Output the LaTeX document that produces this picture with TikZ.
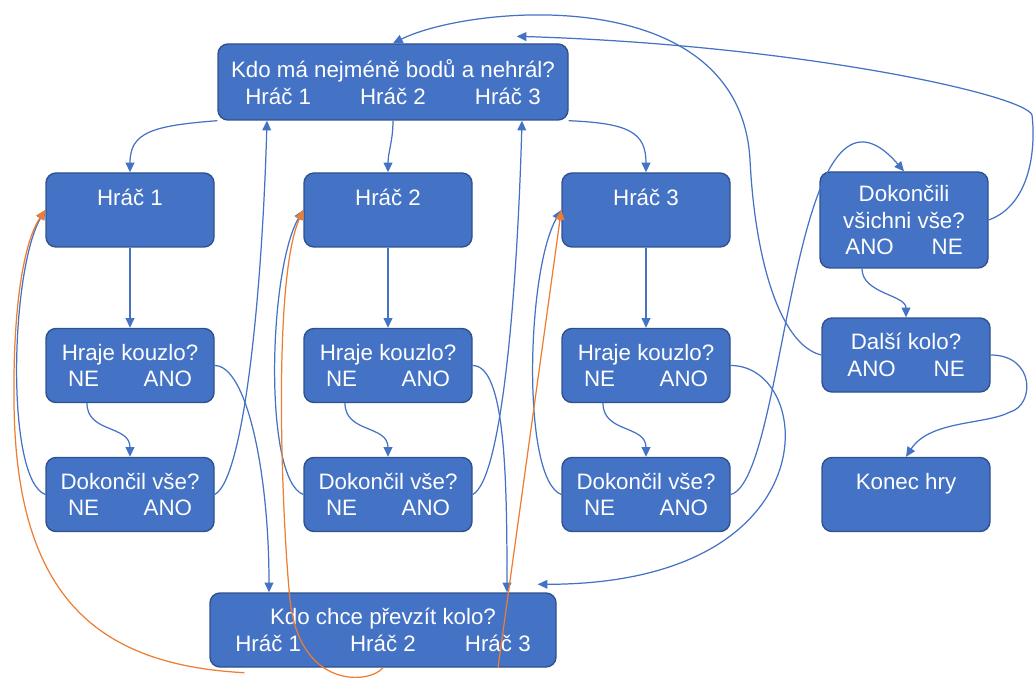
\documentclass[tikz,border=0pt]{standalone}
\usepackage{fontspec}
\setmainfont{Liberation Sans}
\usepackage{xcolor}
\usepackage{tikz}
\usetikzlibrary{arrows.meta,calc}

\definecolor{boxblue}{HTML}{4472C4}
\definecolor{boxedge}{HTML}{2F528F}
\definecolor{linkblue}{HTML}{4472C4}
\definecolor{linkorange}{HTML}{ED7D31}

\begin{document}
\begin{tikzpicture}[
    box/.style={draw=boxedge, line width=0.8pt, fill=boxblue, rounded corners=0.2cm, text=white,
        minimum width=3.36cm, minimum height=1.48cm, align=center, inner sep=1pt,
        font=\fontsize{12.7}{15}\selectfont},
    link/.style={-{Triangle[length=5.5pt,width=5pt]}, linkblue, line width=0.7pt},
    back/.style={link, linkorange}
]
    \useasboundingbox (0,0) rectangle (20.68,13.62);

    % Boxes
    \node[box, minimum width=7cm, minimum height=1.52cm] (top) at (7.86,11.98)
        {Kdo má nejméně bodů a nehrál?\\Hráč 1\hspace{2.2em}Hráč 2\hspace{2.2em}Hráč 3};
    \node[box] (h1) at (2.60,9.42) {Hráč 1\\\mbox{}};
    \node[box] (h2) at (7.76,9.42) {Hráč 2\\\mbox{}};
    \node[box] (h3) at (12.92,9.42) {Hráč 3\\\mbox{}};
    \node[box] (k1) at (2.60,6.31) {Hraje kouzlo?\\NE\hspace{2em}ANO};
    \node[box] (k2) at (7.76,6.31) {Hraje kouzlo?\\NE\hspace{2em}ANO};
    \node[box] (k3) at (12.92,6.31) {Hraje kouzlo?\\NE\hspace{2em}ANO};
    \node[box] (d1) at (2.60,3.73) {Dokončil vše?\\NE\hspace{2em}ANO};
    \node[box] (d2) at (7.76,3.73) {Dokončil vše?\\NE\hspace{2em}ANO};
    \node[box] (d3) at (12.92,3.73) {Dokončil vše?\\NE\hspace{2em}ANO};
    \node[box, minimum height=1.92cm] (all) at (18.08,9.22) {Dokončili\\všichni vše?\\ANO\hspace{1.7em}NE};
    \node[box] (next) at (18.12,6.52) {Další kolo?\\ANO\hspace{1.7em}NE};
    \node[box] (end) at (18.12,3.73) {Konec hry\\\mbox{}};
    \node[box, minimum width=6.92cm] (take) at (7.66,1.02)
        {Kdo chce převzít kolo?\\Hráč 1\hspace{2.2em}Hráč 2\hspace{2.2em}Hráč 3};

    % Who plays
    \draw[link] (top.south west) .. controls +(-1.3,-0.1) and +(0,0.8) .. (h1.north);
    \draw[link] (top.south) .. controls +(0,-0.4) and +(0,0.4) .. (h2.north);
    \draw[link] (top.south east) .. controls +(1.2,-0.05) and +(0,0.8) .. (h3.north);

    \draw[link] (h1.south) -- (k1.north);
    \draw[link] (h2.south) -- (k2.north);
    \draw[link] (h3.south) -- (k3.north);

    % Spell: NE
    \draw[link] ([xshift=-0.86cm]k1.south) .. controls +(0,-0.6) and +(0,0.64) .. (d1.north);
    \draw[link] ([xshift=-0.86cm]k2.south) .. controls +(0,-0.6) and +(0,0.64) .. (d2.north);
    \draw[link] ([xshift=-0.86cm]k3.south) .. controls +(0,-0.6) and +(0,0.64) .. (d3.north);

    % Spell: ANO
    \draw[link] (k1.east) .. controls +(0.64,0) and +(0,2.4) .. ([xshift=-2.28cm]take.north);
    \draw[link] (k2.east) .. controls +(0.64,0) and +(0,2.4) .. ([xshift=2.48cm]take.north);
    \draw[link] (k3.east) .. controls +(1.7,0) and +(5.9,0) .. ([xshift=-0.38cm,yshift=0.16cm]take.north east);

    % Finished: NE
    \draw[link] (d1.west) .. controls +(-0.8,0.3) and +(-0.7,-1.2) .. (h1.west);
    \draw[link] (d2.west) .. controls +(-0.8,0.3) and +(-0.7,-1.2) .. (h2.west);
    \draw[link] (d3.west) .. controls +(-0.8,0.3) and +(-0.7,-1.2) .. (h3.west);

    % Finished: ANO
    \draw[link] (d1.east) .. controls +(0.58,0.3) and +(-0.1,-3.5) .. ([xshift=-2.52cm]top.south);
    \draw[link] (d2.east) .. controls +(0.58,0.3) and +(-0.1,-3.5) .. ([xshift=2.58cm]top.south);
    \draw[link] (d3.east) .. controls +(1.14,0.3) and +(-2.28,2.64) .. (all.north);

    % End of round
    \draw[link] (all.east) .. controls (20.6,9.52) and (20.72,10.62) .. (20.64,11.32)
        .. controls (20.5,11.72) and (16.0,12.72) .. ([xshift=-1.04cm,yshift=0.14cm]top.north east);
    \draw[link] ([xshift=-0.84cm]all.south) .. controls +(0,-0.5) and +(0,0.45) .. (next.north);
    \draw[link] (next.west) .. controls (15.6,6.72) and (15.1,8.42) .. (15.0,10.42)
        .. controls (14.8,14.02) and (9.4,13.52) .. (top.north);
    \draw[link] (next.east) .. controls (20.7,6.52) and (20.7,5.52) .. (20.2,5.38)
        .. controls (19.7,5.12) and (18.6,5.22) .. (end.north);

    % Take over
    \draw[back] ([xshift=0.7cm,yshift=-0.1cm]take.south west) .. controls (2.0,0.32) and (0.3,1.62) .. (0.28,5.62)
        .. controls (0.26,7.62) and (0.5,8.82) .. (h1.west);
    \draw[back] (take.south) .. controls (7.4,-0.06) and (6.0,-0.18) .. (5.8,1.62)
        .. controls (5.64,3.22) and (5.44,8.02) .. (h2.west);
    \draw[back] ([xshift=2.3cm]take.south) -- (h3.west);
\end{tikzpicture}
\end{document}
